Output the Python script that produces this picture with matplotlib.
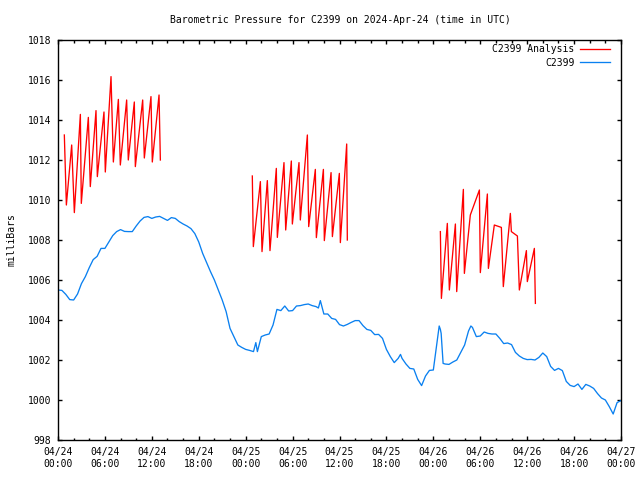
import matplotlib
matplotlib.use("Agg")
import matplotlib.pyplot as plt
import matplotlib.dates as mdates
import pandas as pd

# ---- data (hours since 2024-04-24 00:00 UTC, pressure in mb) ----
obs_hours = [0.0, 0.5, 1.0, 1.5, 2.0, 2.5, 3.0, 3.5, 4.0, 4.5, 5.0, 5.5, 6.0, 6.5, 7.0, 7.5,
             8.0, 8.5, 9.0, 9.5, 10.0, 10.5, 11.0, 11.5, 12.0, 12.5, 13.0, 13.5, 14.0, 14.5,
             15.0, 15.5, 16.0, 16.5, 17.0, 17.5, 18.0, 18.5, 19.0, 19.5, 20.0, 20.5, 21.0,
             21.5, 22.0, 22.5, 23.0, 23.5, 24.0, 24.5, 25.0, 25.3, 25.5, 26.0, 26.5, 27.0,
             27.5, 28.0, 28.5, 29.0, 29.5, 30.0, 30.5, 31.0, 31.5, 32.0, 32.5, 33.0, 33.3,
             33.55, 34.0, 34.5, 35.0, 35.5, 36.0, 36.5, 37.0, 37.5, 38.0, 38.5, 39.0, 39.5,
             40.0, 40.5, 41.0, 41.5, 42.0, 42.5, 43.0, 43.5, 43.8, 44.0, 44.5, 45.0, 45.5,
             46.0, 46.5, 47.0, 47.5, 48.0, 48.3, 48.5, 48.75, 48.9, 49.0, 49.25, 49.5, 50.0,
             50.5, 51.0, 51.5, 52.0, 52.5, 52.8, 53.0, 53.5, 54.0, 54.5, 55.0, 55.5, 56.0,
             56.5, 57.0, 57.5, 58.0, 58.5, 59.0, 59.5, 60.0, 60.5, 61.0, 61.5, 62.0, 62.5,
             63.0, 63.5, 64.0, 64.5, 65.0, 65.5, 66.0, 66.5, 67.0, 67.5, 68.0, 68.5, 69.0,
             69.5, 70.0, 70.5, 71.0, 71.5, 72.0]
obs_values = [1005.5, 1005.48, 1005.28, 1005.02, 1005.0, 1005.3, 1005.82, 1006.17, 1006.62,
              1007.02, 1007.18, 1007.58, 1007.58, 1007.9, 1008.22, 1008.42, 1008.52, 1008.43,
              1008.42, 1008.42, 1008.7, 1008.95, 1009.13, 1009.17, 1009.08, 1009.15, 1009.18,
              1009.08, 1008.98, 1009.12, 1009.08, 1008.92, 1008.8, 1008.7, 1008.57, 1008.32,
              1007.9, 1007.33, 1006.88, 1006.42, 1006.0, 1005.5, 1005.0, 1004.42, 1003.58,
              1003.17, 1002.75, 1002.63, 1002.53, 1002.48, 1002.42, 1002.87, 1002.42, 1003.17,
              1003.25, 1003.3, 1003.75, 1004.53, 1004.47, 1004.7, 1004.45, 1004.47, 1004.7,
              1004.72, 1004.77, 1004.8, 1004.72, 1004.67, 1004.6, 1004.97, 1004.3, 1004.3,
              1004.08, 1004.03, 1003.77, 1003.7, 1003.78, 1003.88, 1003.97, 1003.97, 1003.72,
              1003.53, 1003.48, 1003.27, 1003.28, 1003.08, 1002.53, 1002.17, 1001.87, 1002.08,
              1002.28, 1002.08, 1001.8, 1001.58, 1001.55, 1001.03, 1000.72, 1001.2, 1001.48,
              1001.5, 1002.4, 1002.97, 1003.7, 1003.53, 1003.33, 1001.83, 1001.8, 1001.78,
              1001.9, 1002.0, 1002.38, 1002.75, 1003.45, 1003.7, 1003.63, 1003.17, 1003.2,
              1003.4, 1003.33, 1003.3, 1003.3, 1003.08, 1002.82, 1002.85, 1002.77, 1002.38,
              1002.2, 1002.08, 1002.02, 1002.03, 1002.0, 1002.13, 1002.35, 1002.17, 1001.68,
              1001.48, 1001.58, 1001.47, 1000.93, 1000.73, 1000.67, 1000.8, 1000.53, 1000.78,
              1000.7, 1000.58, 1000.32, 1000.1, 1000.0, 999.67, 999.3, 999.87, 999.97]

ana1_hours = [0.81, 1.07, 1.75, 2.09, 2.86, 2.98, 3.88, 4.13, 4.86, 5.03, 5.88, 6.05, 6.78,
              7.08, 7.72, 7.97, 8.78, 8.99, 9.76, 9.89, 10.83, 11.04, 11.89, 12.06, 12.92, 13.09]
ana1_values = [1013.25, 1009.75, 1012.75, 1009.37, 1014.28, 1009.83, 1014.13, 1010.67, 1014.47,
               1011.17, 1014.4, 1011.4, 1016.17, 1011.9, 1015.03, 1011.75, 1015.0, 1012.0,
               1014.9, 1011.67, 1015.0, 1012.1, 1015.17, 1011.9, 1015.25, 1012.0]

ana2_hours = [24.85, 24.98, 25.88, 26.09, 26.77, 27.11, 27.92, 28.05, 28.90, 29.12, 29.84, 29.97,
              30.82, 30.99, 31.89, 32.06, 32.91, 33.04, 33.94, 34.06, 34.92, 35.09, 35.98, 36.11,
              36.92, 37.00]
ana2_values = [1011.2, 1007.67, 1010.92, 1007.42, 1010.97, 1007.47, 1011.58, 1008.13, 1011.87,
               1008.5, 1011.95, 1008.8, 1011.87, 1009.0, 1013.25, 1008.67, 1011.53, 1008.12,
               1011.53, 1007.97, 1011.37, 1008.17, 1011.33, 1007.87, 1012.8, 1008.0]

ana3_hours = [48.90, 49.03, 49.79, 50.05, 50.82, 50.99, 51.84, 51.97, 52.73, 52.99, 53.89, 54.01,
              54.91, 55.04, 55.80, 56.70, 56.95, 57.85, 57.98, 58.75, 59.00, 59.90, 60.02, 60.92,
              61.05]
ana3_values = [1008.42, 1005.08, 1008.83, 1005.5, 1008.8, 1005.42, 1010.53, 1006.33, 1009.25,
               1009.53, 1010.5, 1006.37, 1010.3, 1006.58, 1008.75, 1008.63, 1005.67, 1009.33,
               1008.42, 1008.2, 1005.5, 1007.47, 1005.92, 1007.58, 1004.83]

title = "Barometric Pressure for C2399 on 2024-Apr-24 (time in UTC)"
base = pd.Timestamp("2024-04-24 00:00")


def to_time(hours):
    return base + pd.to_timedelta(hours, unit="h")


plt.rcParams["font.family"] = ["DejaVu Sans Mono"]
FS = 7

fig = plt.figure(figsize=(6.4, 4.8), dpi=100)
ax = fig.add_axes([58 / 640, 40 / 480, (621 - 58) / 640, 400 / 480])

red = "#ff0000"
blue = "#0a80f0"
kw = dict(lw=0.95)
ax.plot(to_time(ana1_hours), ana1_values, color=red, label="C2399 Analysis", **kw)
ax.plot(to_time(ana2_hours), ana2_values, color=red, **kw)
ax.plot(to_time(ana3_hours), ana3_values, color=red, **kw)
ax.plot(to_time(obs_hours), obs_values, color=blue, label="C2399", **kw)

ax.set_xlim(to_time(0), to_time(72))
ax.set_ylim(998, 1018)
ax.set_yticks(range(998, 1019, 2))
ax.xaxis.set_major_locator(mdates.HourLocator(byhour=[0, 6, 12, 18]))
ax.xaxis.set_minor_locator(mdates.HourLocator(byhour=range(0, 24, 2)))
ax.xaxis.set_major_formatter(mdates.DateFormatter("%m/%d\n%H:%M"))

ax.tick_params(axis="both", which="both", direction="in", top=True, right=True,
               labelsize=FS, colors="black", width=1)
ax.tick_params(axis="both", which="major", length=3.2)
ax.tick_params(axis="both", which="minor", length=1.8)
ax.tick_params(axis="y", pad=5)
ax.tick_params(axis="x", pad=5)
for s in ax.spines.values():
    s.set_linewidth(1)
    s.set_color("black")

fig.text(340 / 640, 1 - 20 / 480, title, ha="center", va="center", fontsize=FS)
fig.text(12 / 640, 0.5, "milliBars", rotation=90, ha="center", va="center", fontsize=FS)

leg = ax.legend(loc="upper right", bbox_to_anchor=(0.9805, 0.989), frameon=False,
                markerfirst=False, fontsize=FS, handlelength=3.1, handletextpad=0.55,
                labelspacing=0.35, borderpad=0, borderaxespad=0)

fig.savefig("out.png", dpi=100)
